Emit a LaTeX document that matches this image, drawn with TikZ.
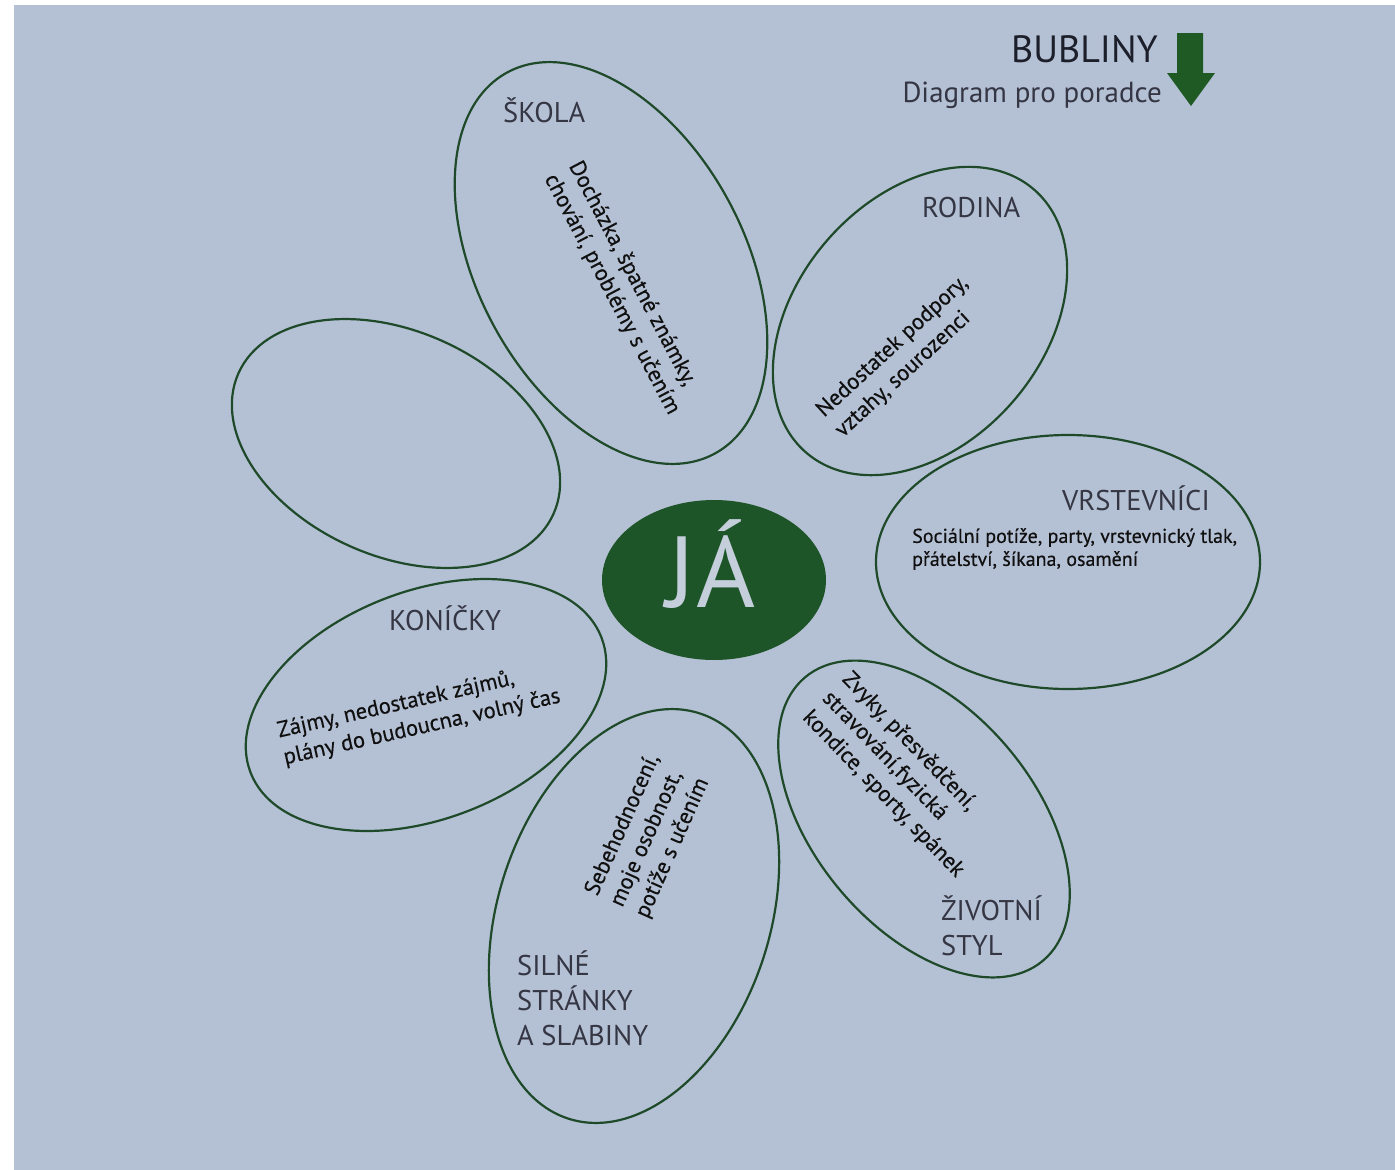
\documentclass[tikz,border=0pt]{standalone}
\usepackage{fontspec}
\setmainfont{PT Sans}
\newfontfamily\bodyfont{PT Sans}[FakeBold=0.35]
\usetikzlibrary{shapes.geometric}
\definecolor{pagecol}{HTML}{B4C0D4}
\definecolor{petalcol}{HTML}{1F4A2A}
\definecolor{jafill}{HTML}{1D5428}
\definecolor{arrowcol}{HTML}{1F5A25}
\definecolor{titlecol}{HTML}{353644}
\definecolor{bodycol}{HTML}{101010}
\definecolor{jatextcol}{HTML}{C5CFDC}
\definecolor{headcol}{HTML}{1C1F2A}
\begin{document}
\begin{tikzpicture}[x=1pt,y=-1pt,
  petal/.style={ellipse, draw=petalcol, line width=2.2pt, inner sep=0pt, outer sep=0pt},
  ttl/.style={text=titlecol, font=\fontsize{28.5}{35}\selectfont, align=left, inner sep=0pt},
  bodytxt/.style={text=bodycol, font=\bodyfont\fontsize{22.5}{27.5}\selectfont, align=left, inner sep=0pt},
  smallbody/.style={text=bodycol, font=\bodyfont\fontsize{20}{23}\selectfont, align=left, inner sep=0pt}]
\useasboundingbox (0,0) rectangle (1395,1170);
\fill[white] (0,0) rectangle (1395,1170);
\fill[pagecol] (14,5) rectangle (1395,1170);

% heading
\node[text=headcol, font=\fontsize{38}{40}\selectfont, anchor=base east, inner sep=0pt] (bubliny) at (1158,62) {BUBLINY};
\node[text=titlecol, font=\fontsize{29}{32}\selectfont, anchor=base east, inner sep=0pt] (diagram) at (1162,102) {Diagram pro poradce};
\fill[arrowcol] (1177,33) -- (1203,33) -- (1203,73) -- (1215,73) -- (1191,106) -- (1167,73) -- (1177,73) -- cycle;

% petals
\node[petal, minimum width=266, minimum height=434, rotate=28.6] (skola) at (611,263) {};
\node[petal, minimum width=246, minimum height=348, rotate=-41] (rodina) at (920,321) {};
\node[petal, minimum width=384, minimum height=254] (vrst) at (1068,562) {};
\node[petal, minimum width=220, minimum height=370, rotate=40] (zivot) at (924,819) {};
\node[petal, minimum width=272, minimum height=426, rotate=-18] (silne) at (634,916) {};
\node[petal, minimum width=376, minimum height=228, rotate=21] (konicky) at (426,705) {};
\node[petal, minimum width=345, minimum height=225, rotate=-24] (empty) at (396,443.5) {};

% centre
\node[ellipse, fill=jafill, minimum width=224, minimum height=160, inner sep=0pt] (ja) at (714,580) {};
\node[text=jatextcol, font=\fontsize{101}{101}\selectfont, anchor=base, inner sep=0pt] (jalabel) at (711,607) {JÁ};

% titles
\node[ttl, anchor=base west] (tskola) at (503,122) {ŠKOLA};
\node[ttl, anchor=base west] (trodina) at (922,217) {RODINA};
\node[ttl, anchor=base west] (tvrst) at (1062,510) {VRSTEVNÍCI};
\node[ttl, anchor=base west] (tkonicky) at (389,630) {KONÍČKY};
\node[ttl, anchor=west, font=\fontsize{28.5}{34.5}\selectfont] (tzivot) at (941,926) {ŽIVOTNÍ\\STYL};
\node[ttl, anchor=west] (tsilne) at (517,998) {SILNÉ\\STRÁNKY\\A SLABINY};

% body texts
\node[bodytxt, rotate=-62.3] (bskola) at (624,288) {Docházka, špatné známky,\\chování, problémy s učením};
\node[bodytxt, rotate=42.7] (brodina) at (902,357) {Nedostatek podpory,\\vztahy, sourozenci};
\node[smallbody, anchor=north west] (bvrst) at (912,528) {Sociální potíže, party, vrstevnický tlak,\\přátelství, šíkana, osamění};
\node[bodytxt, rotate=12.7] (bkonicky) at (419,714) {Zájmy, nedostatek zájmů,\\plány do budoucna, volný čas};
\node[bodytxt, rotate=66] (bsilne) at (648,836) {Sebehodnocení,\\moje osobnost,\\potíže s učením};
\node[bodytxt, rotate=-46] (bzivot) at (903,775) {Zvyky, přesvědčení,\\stravování,fyzická\\kondice, sporty, spánek};
\end{tikzpicture}
\end{document}
